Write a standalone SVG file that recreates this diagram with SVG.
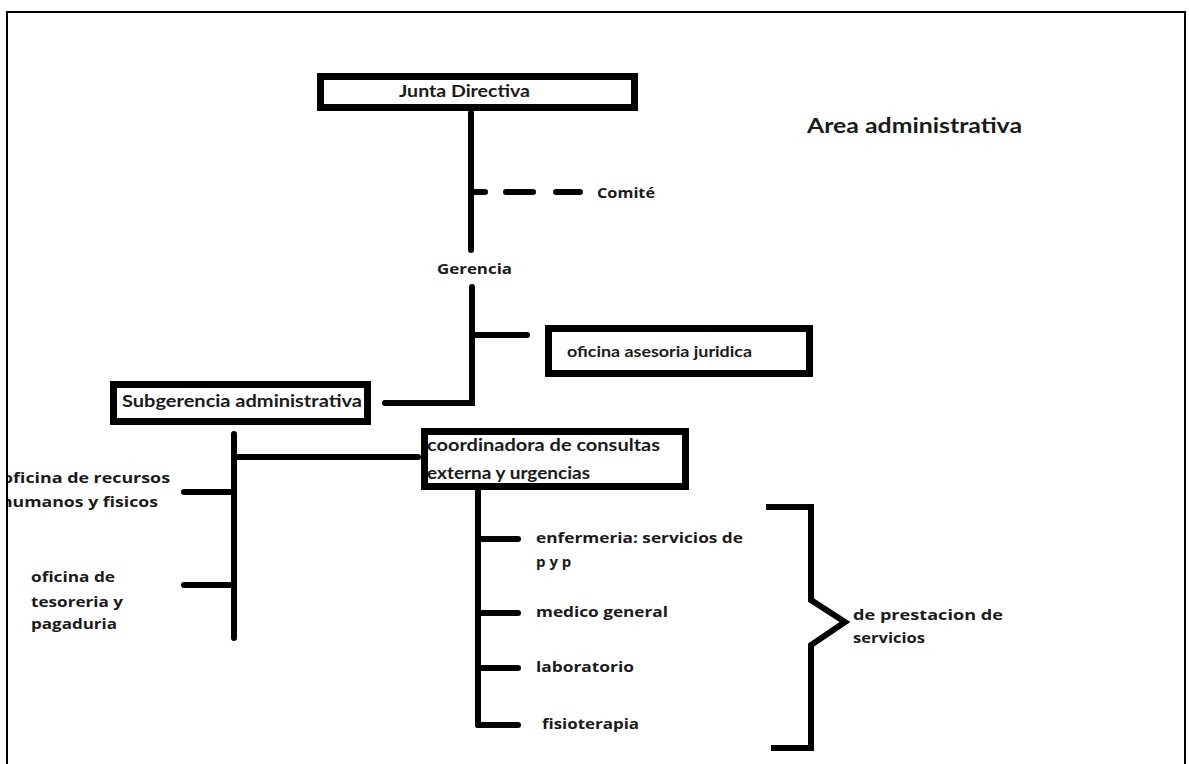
<svg xmlns="http://www.w3.org/2000/svg" width="1189" height="764" viewBox="0 0 1189 764">
<style>
.box{fill:#fff;stroke:#000;stroke-width:7}
.ln{fill:none;stroke:#000;stroke-width:6;stroke-linecap:round;stroke-linejoin:miter}
.c{font-family:Lato,"Liberation Sans",sans-serif;font-weight:700;fill:#1a1a1a}
.o{font-family:"Open Sans","Liberation Sans",sans-serif;font-weight:700;fill:#1a1a1a;font-size:15px}
</style>
<rect x="0" y="0" width="1189" height="764" fill="#fff"/>
<g id="connectors">
<line class="ln" x1="471" y1="113" x2="471" y2="250"/>
<line class="ln" x1="472" y1="192" x2="485" y2="192"/>
<line class="ln" x1="506" y1="192" x2="533" y2="192"/>
<line class="ln" x1="556" y1="192" x2="580" y2="192"/>
<polyline class="ln" points="472,287 472,403 385,403"/>
<line class="ln" x1="472" y1="335" x2="527" y2="335"/>
<line class="ln" x1="234" y1="434" x2="234" y2="638"/>
<line class="ln" x1="234" y1="457" x2="418" y2="457"/>
<line class="ln" x1="184" y1="492" x2="234" y2="492"/>
<line class="ln" x1="184" y1="585" x2="234" y2="585"/>
<line class="ln" x1="478" y1="491" x2="478" y2="725"/>
<line class="ln" x1="478" y1="539" x2="518" y2="539"/>
<line class="ln" x1="478" y1="613" x2="518" y2="613"/>
<line class="ln" x1="478" y1="668" x2="518" y2="668"/>
<line class="ln" x1="478" y1="725" x2="518" y2="725"/>
<polyline class="ln" style="stroke-linecap:butt" points="766,507 811,507 811,600 845,622 811,645 811,748 771,748"/>
</g>
<g id="junta">
<rect class="box" x="320.5" y="76.5" width="314" height="31"/>
<text class="c" x="399" y="97" font-size="17" textLength="131" lengthAdjust="spacingAndGlyphs">Junta Directiva</text>
</g>
<g id="area">
<text class="c" x="807" y="133" font-size="20" textLength="215" lengthAdjust="spacingAndGlyphs">Area administrativa</text>
</g>
<g id="comite">
<text class="o" x="597" y="198" textLength="58" lengthAdjust="spacingAndGlyphs">Comité</text>
</g>
<g id="gerencia">
<text class="o" x="437" y="274" textLength="75" lengthAdjust="spacingAndGlyphs">Gerencia</text>
</g>
<g id="asesoria">
<rect class="box" x="548.5" y="328.5" width="261" height="45"/>
<text class="c" x="567" y="357" font-size="16" font-weight="600" textLength="185" lengthAdjust="spacingAndGlyphs">oficina asesoria juridica</text>
</g>
<g id="subgerencia">
<rect class="box" x="113.5" y="384.5" width="254" height="37"/>
<text class="c" x="122" y="407" font-size="17" font-weight="600" textLength="240" lengthAdjust="spacingAndGlyphs">Subgerencia administrativa</text>
</g>
<g id="coordinadora">
<rect class="box" x="424.5" y="431.5" width="261" height="55"/>
<text class="c" x="427" y="451" font-size="17" font-weight="600" textLength="233" lengthAdjust="spacingAndGlyphs">coordinadora de consultas</text>
<text class="c" x="427" y="479" font-size="17" font-weight="600" textLength="163" lengthAdjust="spacingAndGlyphs">externa y urgencias</text>
</g>
<g id="recursos">
<text class="o" x="2" y="483" textLength="168" lengthAdjust="spacingAndGlyphs">oficina de recursos</text>
<text class="o" x="1" y="507" textLength="157" lengthAdjust="spacingAndGlyphs">humanos y fisicos</text>
</g>
<g id="tesoreria">
<text class="o" x="31" y="582" textLength="84" lengthAdjust="spacingAndGlyphs">oficina de</text>
<text class="o" x="31" y="607" textLength="92" lengthAdjust="spacingAndGlyphs">tesoreria y</text>
<text class="o" x="31" y="629" textLength="86" lengthAdjust="spacingAndGlyphs">pagaduria</text>
</g>
<g id="enfermeria">
<text class="o" x="536" y="543" textLength="207" lengthAdjust="spacingAndGlyphs">enfermeria: servicios de</text>
<text class="o" x="536" y="567">p y p</text>
</g>
<g id="medico">
<text class="o" x="536" y="617" textLength="132" lengthAdjust="spacingAndGlyphs">medico general</text>
</g>
<g id="laboratorio">
<text class="o" x="536" y="672" textLength="98" lengthAdjust="spacingAndGlyphs">laboratorio</text>
</g>
<g id="fisioterapia">
<text class="o" x="542" y="729" textLength="97" lengthAdjust="spacingAndGlyphs">fisioterapia</text>
</g>
<g id="prestacion">
<text class="o" x="853" y="620" textLength="150" lengthAdjust="spacingAndGlyphs">de prestacion de</text>
<text class="o" x="853" y="643" textLength="72" lengthAdjust="spacingAndGlyphs">servicios</text>
</g>
<g id="frame">
<rect x="0" y="0" width="6" height="764" fill="#fff"/>
<polyline points="7,764 7,12 1185,12 1185,764" fill="none" stroke="#000" stroke-width="2"/>
</g>
</svg>
